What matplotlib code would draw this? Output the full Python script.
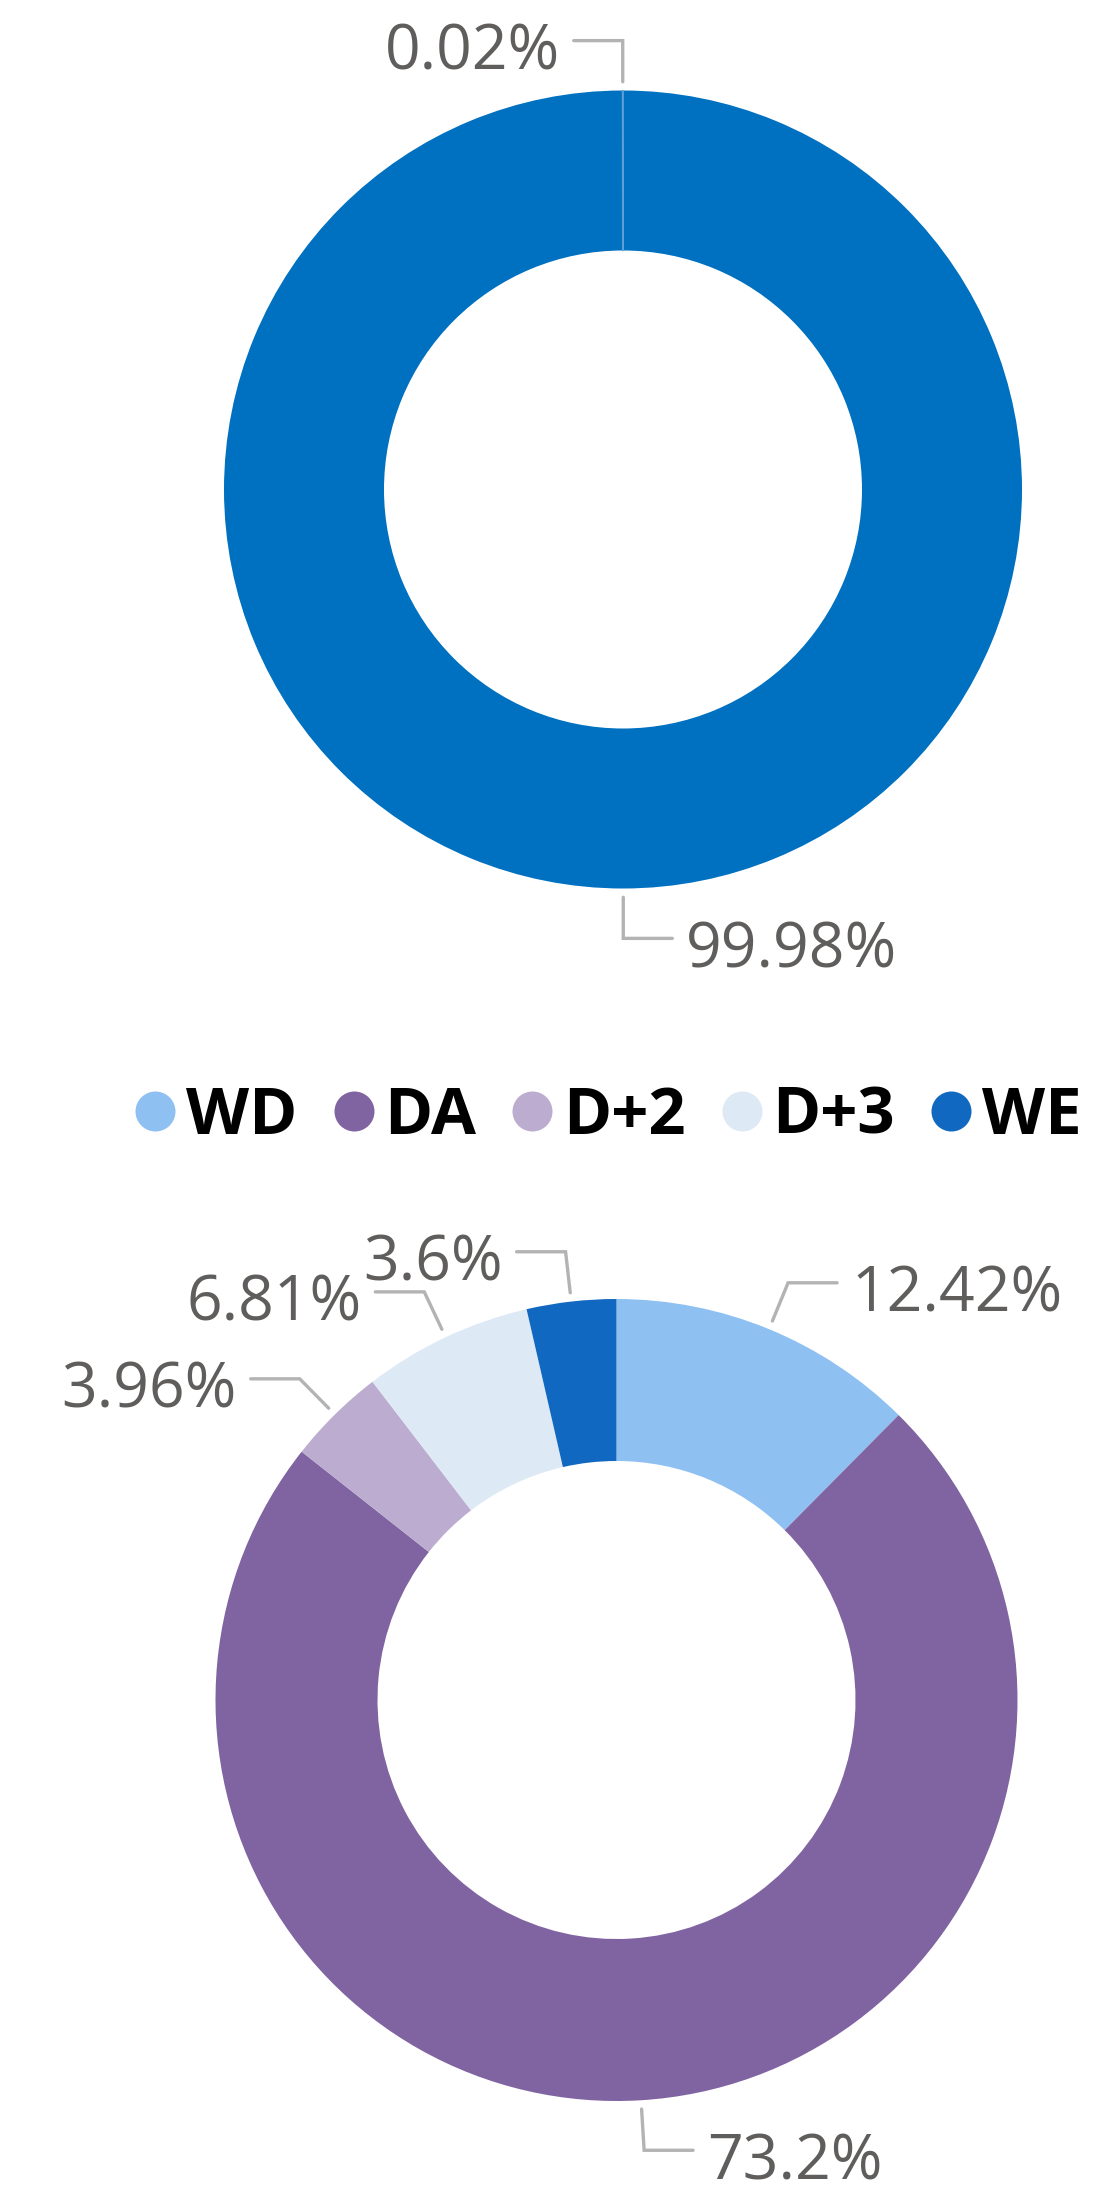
import numpy as np
import matplotlib
matplotlib.use("Agg")
from matplotlib import pyplot as plt
from matplotlib.lines import Line2D

# ---- data ----
top_labels = ["A", "B"]
top_values = [99.98, 0.02]
top_colors = ["#0070C0", "#5E9FD8"]

cats = ["WD", "DA", "D+2", "D+3", "WE"]
values = [12.42, 73.2, 3.96, 6.81, 3.6]
colors = ["#8FC0F2", "#8064A2", "#BCADD0", "#DEE9F6", "#1068C0"]

W, H = 1110, 2192
TEXT_C = "#605E5C"
LINE_C = "#B3B3B3"
FONT = ["Open Sans", "DejaVu Sans"]

fig = plt.figure(figsize=(W / 100, H / 100), dpi=100)
ax = fig.add_axes([0, 0, 1, 1])


def donut(vals, cols, cx, cy, r_out, r_in):
    # cy given in pixel rows from the top
    cy = H - cy
    wedges, _ = ax.pie(vals, colors=cols, startangle=90, counterclock=False,
                       center=(cx, cy), radius=r_out,
                       wedgeprops=dict(width=r_out - r_in, linewidth=0))
    # small wedge gets a hairline so it stays visible
    for w, v, c in zip(wedges, vals, cols):
        if v < 1:
            w.set_edgecolor(c)
            w.set_linewidth(1.0)
    # leader lines + labels
    for w, v in zip(wedges, vals):
        theta = np.deg2rad((w.theta1 + w.theta2) / 2)
        c, s = np.cos(theta), np.sin(theta)
        p0 = (cx + 1.022 * r_out * c, cy + 1.022 * r_out * s)
        p1 = (cx + 1.125 * r_out * c, cy + 1.125 * r_out * s)
        side = 1 if c >= 0 else -1
        p2 = (p1[0] + side * 49, p1[1])
        ax.plot([p0[0], p1[0], p2[0]], [p0[1], p1[1], p2[1]],
                color=LINE_C, lw=2.4, solid_capstyle="round", solid_joinstyle="miter")
        txt = f"{v:g}%"
        ax.text(p2[0] + side * 14, p1[1] - 29, txt, ha="left" if side > 0 else "right",
                va="baseline", fontsize=45, color=TEXT_C, family=FONT)


donut(top_values, top_colors, 623, 489.5, 399, 239)
donut(values, colors, 616.5, 1700, 401, 239)

# legend
handles = [Line2D([], [], marker="o", linestyle="none", markersize=28.8,
                  markerfacecolor=c, markeredgewidth=0) for c in colors]
fig.legend(handles, cats, loc="center", bbox_to_anchor=(608 / W, 1 - 1117 / H),
           ncol=5, frameon=False, handlelength=0.63, handletextpad=0.15,
           columnspacing=0.55, borderpad=0,
           prop=dict(family=FONT, weight="bold", size=47))

ax.set_xlim(0, W)
ax.set_ylim(0, H)
ax.set_aspect("auto")
ax.axis("off")

fig.savefig("out.png", dpi=100, facecolor="white")
